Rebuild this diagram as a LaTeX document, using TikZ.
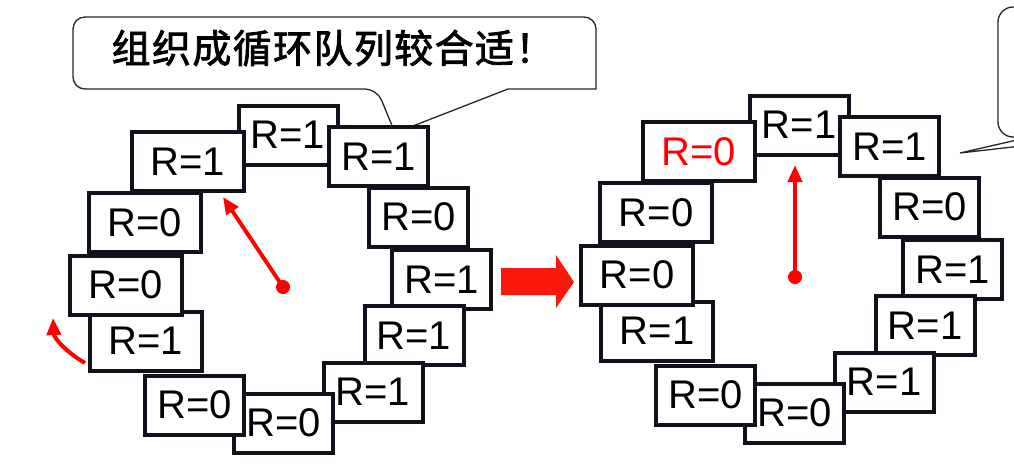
\documentclass[tikz,border=0pt]{standalone}
\usepackage{fontspec}
\setmainfont{Liberation Sans}
\newfontfamily\cjk{Noto Sans CJK SC}[LetterSpace=3.5, FakeBold=2]
\usetikzlibrary{arrows.meta}

\definecolor{ptrred}{RGB}{255,0,0}
\definecolor{fatred}{RGB}{250,24,12}
\definecolor{boxline}{RGB}{18,16,26}

\tikzset{
    slot/.style={draw=boxline, line width=4pt, fill=white, inner sep=0pt,
        minimum width=99pt, minimum height=59pt, font=\fontsize{40}{42}\selectfont},
    wideslot/.style={slot, minimum width=112pt},
    dot/.style={circle, fill=ptrred, inner sep=0pt, minimum size=14pt},
    ptr/.style={ptrred, line width=4pt},
    callout/.style={draw=black!85, line width=1.3pt, fill=white},
}

\begin{document}
\begin{tikzpicture}[x=1pt, y=-1pt, >={Triangle[length=17pt, width=14pt]}]
    \useasboundingbox (0,0) rectangle (1014,474);

    % speech bubbles
    \draw[callout] (335,17) [rounded corners=12pt] -- (73,17) -- (73,89) -- (377,89)
        [sharp corners] -- (395,133) -- (508,89) -- (596,89)
        [rounded corners=12pt] -- (596,17) -- cycle;
    \node[font=\cjk\fontsize{39}{42}\selectfont] (note) at (333,48) {组织成循环队列较合适！};

    \begin{scope}
        \clip (0,0) rectangle (1014,474);
        \draw[callout] (1030,137) [rounded corners=15pt] -- (998,137) -- (998,7) -- (1120,7);
        \draw[callout, fill=none] (1030,137) -- (960,153) -- (1100,137);
    \end{scope}

    % left ring
    \draw[ptr, ->] (85,363) .. controls (66,352) and (54,338) .. (53,318);
    \node[slot] (l1) at (288,135) {R=1};
    \node[wideslot] (l12) at (187.5,161.5) {R=1};
    \node[slot] (l2) at (378.5,156.5) {R=1};
    \node[wideslot] (l11) at (145,222.5) {R=0};
    \node[slot] (l3) at (418.5,217) {R=0};
    \node[wideslot] (l9) at (146,341) {R=1};
    \node[wideslot] (l10) at (126,285) {R=0};
    \node[slot] (l4) at (441.5,279.5) {R=1};
    \node[slot] (l5) at (414,335.5) {R=1};
    \node[slot] (l6) at (373,392) {R=1};
    \node[slot] (l7) at (283.5,423) {R=0};
    \node[slot] (l8) at (194.5,405) {R=0};

    \node[dot] (ldot) at (283,287) {};
    \coordinate (ltip) at (223,197);
    \draw[ptr, ->] (ldot.center) -- (ltip);

    % move on
    \fill[fatred] (501,268) -- (556,268) -- (556,255) -- (574,282) -- (556,308)
        -- (556,295) -- (501,295) -- cycle;

    % right ring
    \begin{scope}[shift={(511,-10)}]
        \node[slot] (r1) at (288,135) {R=1};
        \node[wideslot, text=ptrred] (r12) at (187.5,161.5) {R=0};
        \node[slot] (r2) at (378.5,156.5) {R=1};
        \node[wideslot] (r11) at (145,222.5) {R=0};
        \node[slot] (r3) at (418.5,217) {R=0};
        \node[wideslot] (r9) at (146,341) {R=1};
        \node[wideslot] (r10) at (126,285) {R=0};
        \node[slot] (r4) at (441.5,279.5) {R=1};
        \node[slot] (r5) at (414,335.5) {R=1};
        \node[slot] (r6) at (373,392) {R=1};
        \node[slot] (r7) at (283.5,423) {R=0};
        \node[slot] (r8) at (194.5,405) {R=0};

        \node[dot] (rdot) at (284,287) {};
        \coordinate (rtip) at (284,175);
        \draw[ptr, ->] (rdot.center) -- (rtip);
    \end{scope}
\end{tikzpicture}
\end{document}
